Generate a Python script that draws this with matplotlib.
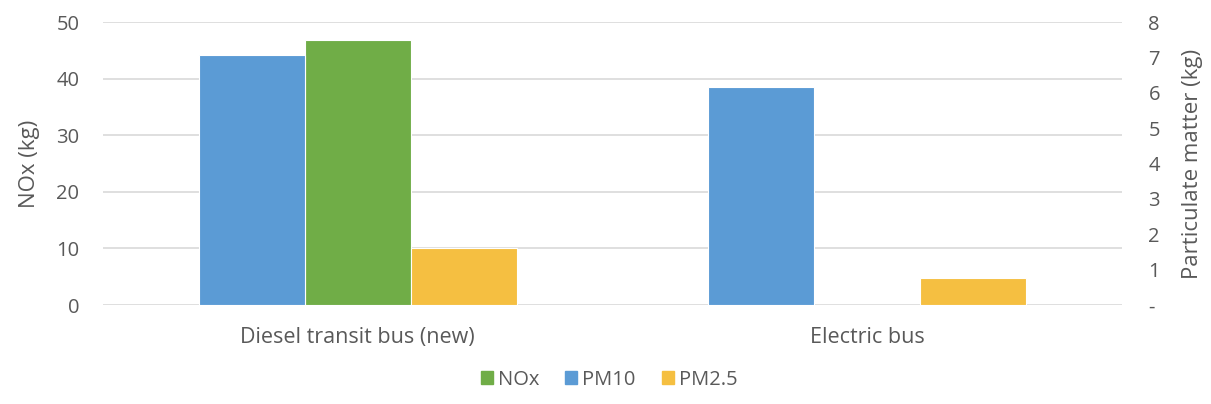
import numpy as np
import matplotlib
matplotlib.use('Agg')
import matplotlib.pyplot as plt
from matplotlib.ticker import FuncFormatter
from matplotlib.patches import Patch

# emissions per bus type
categories = ["Diesel transit bus (new)", "Electric bus"]
nox_kg = [46.8, 0.0]
pm10_kg = [7.07, 6.17]
pm25_kg = [1.61, 0.76]

nox_ticks = [0, 10, 20, 30, 40, 50]
pm_ticks = [0, 1, 2, 3, 4, 5, 6, 7, 8]

c_nox = '#70AD47'
c_pm10 = '#5B9BD5'
c_pm25 = '#F5BF41'
grey = '#595959'

plt.rcParams['font.family'] = ['Open Sans', 'DejaVu Sans']

fig = plt.figure(figsize=(12.11, 4.04), dpi=100)
ax = fig.add_axes([0.085, 0.245, 0.8415, 0.7005])
ax2 = ax.twinx()

x = np.arange(len(categories))
w = 0.208

ax.bar(x, nox_kg, w, color=c_nox, edgecolor='white', linewidth=0.8, zorder=3)
ax2.bar(x - w, pm10_kg, w, color=c_pm10, edgecolor='white', linewidth=0.8, zorder=3)
ax2.bar(x + w, pm25_kg, w, color=c_pm25, edgecolor='white', linewidth=0.8, zorder=3)

ax.set_xlim(-0.5, 1.5)
ax.set_ylim(0, 50)
ax2.set_ylim(0, 8)
ax.set_yticks(nox_ticks)
ax2.set_yticks(pm_ticks)
ax2.yaxis.set_major_formatter(FuncFormatter(lambda v, p: '-' if v == 0 else f'{v:.0f}'))

ax.grid(axis='y', color='#D9D9D9', linewidth=1.2, zorder=0)
ax.set_axisbelow(True)
for a in (ax, ax2):
    for s in a.spines.values():
        s.set_visible(False)
    a.tick_params(length=0, colors=grey, labelsize=14.5)

ax.set_xticks(x)
ax.set_xticklabels(categories, fontsize=15.5)
ax.tick_params(axis='x', pad=16)
ax.tick_params(axis='y', pad=17)
ax2.tick_params(axis='y', pad=19)

ax.set_ylabel('NOx (kg)', color=grey, fontsize=16)
ax2.set_ylabel('Particulate matter (kg)', color=grey, fontsize=16)
ax.yaxis.set_label_coords(-0.062, 0.5)
ax2.yaxis.set_label_coords(1.059, 0.5)

handles = [Patch(color=c_nox, label='NOx'),
           Patch(color=c_pm10, label='PM10'),
           Patch(color=c_pm25, label='PM2.5')]
leg = fig.legend(handles=handles, loc='center', bbox_to_anchor=(0.503, 0.06), ncol=3,
                 frameon=False, fontsize=14.5, handlelength=0.6, handleheight=0.6,
                 handletextpad=0.25, columnspacing=1.3)
for t in leg.get_texts():
    t.set_color(grey)

fig.savefig('out.png', dpi=100)
